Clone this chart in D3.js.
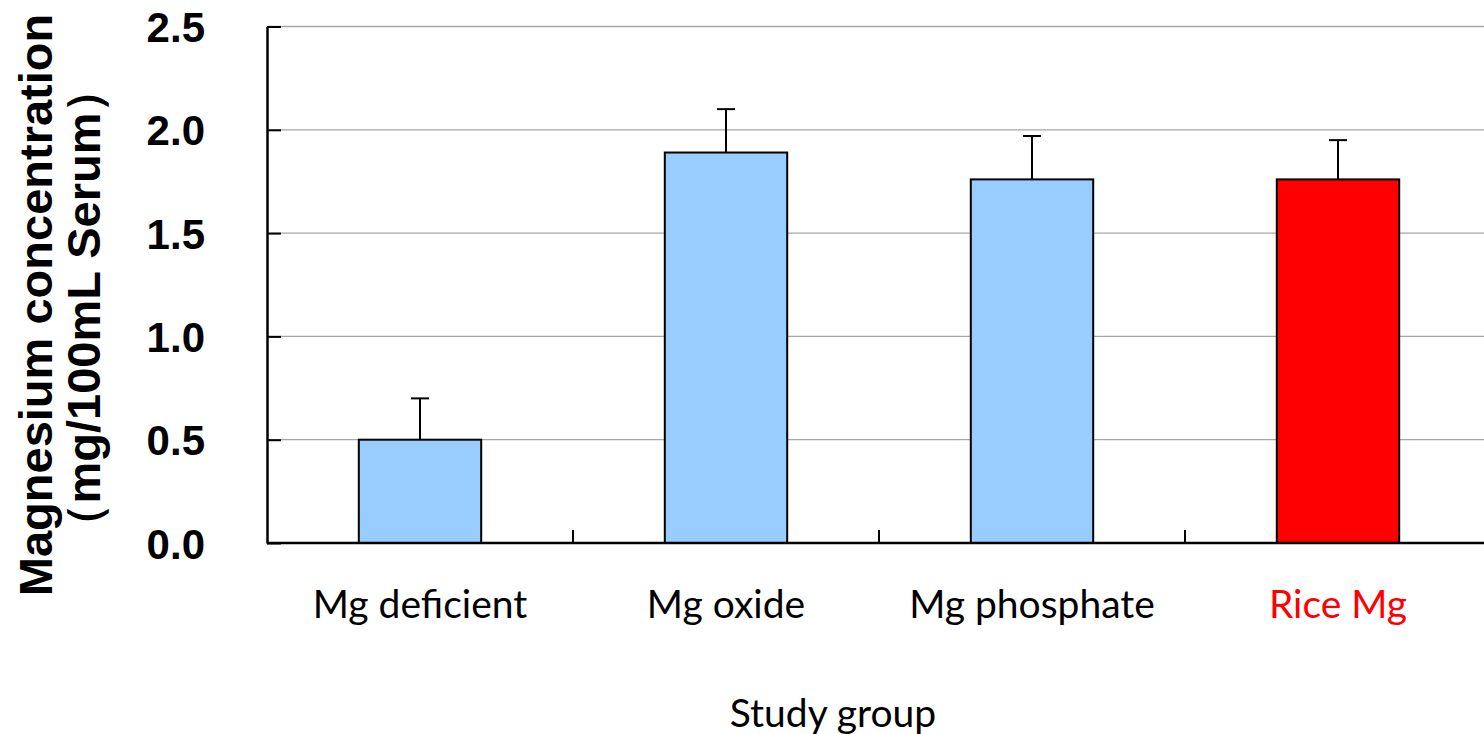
<!DOCTYPE html>
<html>
<head>
<meta charset="utf-8">
<script src="https://cdn.jsdelivr.net/npm/d3@7"></script>
<style>
  body { margin: 0; background: #fff; }
  svg { display: block; }
</style>
</head>
<body>
<svg id="chart" width="1484" height="734"></svg>
<script>
// data
var groups = ["Mg deficient", "Mg oxide", "Mg phosphate", "Rice Mg"];
var means = [0.50, 1.89, 1.76, 1.76];
var errors = [0.20, 0.21, 0.21, 0.19];
var yTicks = [0, 0.5, 1.0, 1.5, 2.0, 2.5];
var barColors = ["#99ccff", "#99ccff", "#99ccff", "#ff0000"];
var labelColors = ["#000", "#000", "#000", "#ff0000"];

var plotLeft = 267, plotRight = 1491, plotTop = 26.5, plotBottom = 543;

var svg = d3.select("#chart");

var xscale = d3.scaleBand().domain(groups).range([plotLeft, plotRight])
    .paddingInner(0.6).paddingOuter(0.3);
var yscale = d3.scaleLinear().domain([0, 2.5]).range([plotBottom, plotTop]);

// gridlines
svg.append("g").selectAll("line").data(yTicks.filter(function (d) { return d > 0; }))
    .enter().append("line")
    .attr("x1", plotLeft).attr("x2", plotRight)
    .attr("y1", function (d) { return yscale(d); })
    .attr("y2", function (d) { return yscale(d); })
    .attr("stroke", "#a6a6a6").attr("stroke-width", 1.3);

// bars
svg.append("g").selectAll("rect").data(groups).enter().append("rect")
    .attr("x", function (d) { return xscale(d); })
    .attr("y", function (d, i) { return yscale(means[i]); })
    .attr("width", xscale.bandwidth())
    .attr("height", function (d, i) { return yscale(0) - yscale(means[i]); })
    .attr("fill", function (d, i) { return barColors[i]; })
    .attr("stroke", "#000").attr("stroke-width", 2);

// error bars
var eb = svg.append("g").selectAll("g").data(groups).enter().append("g")
    .attr("stroke", "#000").attr("stroke-width", 2);
eb.append("line")
    .attr("x1", function (d) { return xscale(d) + xscale.bandwidth() / 2; })
    .attr("x2", function (d) { return xscale(d) + xscale.bandwidth() / 2; })
    .attr("y1", function (d, i) { return yscale(means[i]); })
    .attr("y2", function (d, i) { return yscale(means[i] + errors[i]); });
eb.append("line")
    .attr("x1", function (d) { return xscale(d) + xscale.bandwidth() / 2 - 9; })
    .attr("x2", function (d) { return xscale(d) + xscale.bandwidth() / 2 + 9; })
    .attr("y1", function (d, i) { return yscale(means[i] + errors[i]); })
    .attr("y2", function (d, i) { return yscale(means[i] + errors[i]); });

// y axis
var yaxis = d3.axisLeft(yscale).tickValues(yTicks).tickFormat(d3.format(".1f"))
    .tickSizeInner(-14).tickSizeOuter(0).tickPadding(62);
var gy = svg.append("g").attr("transform", "translate(" + plotLeft + ",0)").call(yaxis);
gy.select(".domain").attr("stroke", "#000").attr("stroke-width", 2.5);
gy.selectAll(".tick line").attr("stroke", "#000").attr("stroke-width", 2);
gy.selectAll(".tick text")
    .attr("font-family", "'Liberation Sans', Arial, sans-serif")
    .attr("font-weight", "bold").attr("font-size", 42).attr("fill", "#000")
    .attr("dy", "0.36em");

// x axis line and ticks at band boundaries
svg.append("line").attr("x1", plotLeft).attr("x2", plotRight)
    .attr("y1", plotBottom).attr("y2", plotBottom)
    .attr("stroke", "#000").attr("stroke-width", 2.5);
var step = xscale.step();
svg.append("g").selectAll("line").data(groups.slice(1)).enter().append("line")
    .attr("x1", function (d) { return xscale(d) - step * 0.3; })
    .attr("x2", function (d) { return xscale(d) - step * 0.3; })
    .attr("y1", plotBottom).attr("y2", plotBottom - 13)
    .attr("stroke", "#000").attr("stroke-width", 2);

// category labels
svg.append("g").selectAll("text").data(groups).enter().append("text")
    .attr("x", function (d) { return xscale(d) + xscale.bandwidth() / 2; })
    .attr("y", 618)
    .attr("text-anchor", "middle")
    .attr("font-family", "Lato, 'Open Sans', sans-serif")
    .attr("font-size", 39)
    .attr("fill", function (d, i) { return labelColors[i]; })
    .text(function (d) { return d; });

// axis titles
svg.append("text").attr("x", 833).attr("y", 727).attr("text-anchor", "middle")
    .attr("font-family", "Lato, 'Open Sans', sans-serif").attr("font-size", 39)
    .text("Study group");

var ylab = svg.append("g").attr("transform", "translate(0,305) rotate(-90)")
    .attr("font-family", "'Liberation Sans', Arial, sans-serif")
    .attr("font-weight", "bold").attr("font-size", 47).attr("text-anchor", "middle");
ylab.append("text").attr("x", 0).attr("y", 52).text("Magnesium concentration");
ylab.append("text").attr("x", -3).attr("y", 100).text("（mg/100mL Serum）");
</script>
</body>
</html>
